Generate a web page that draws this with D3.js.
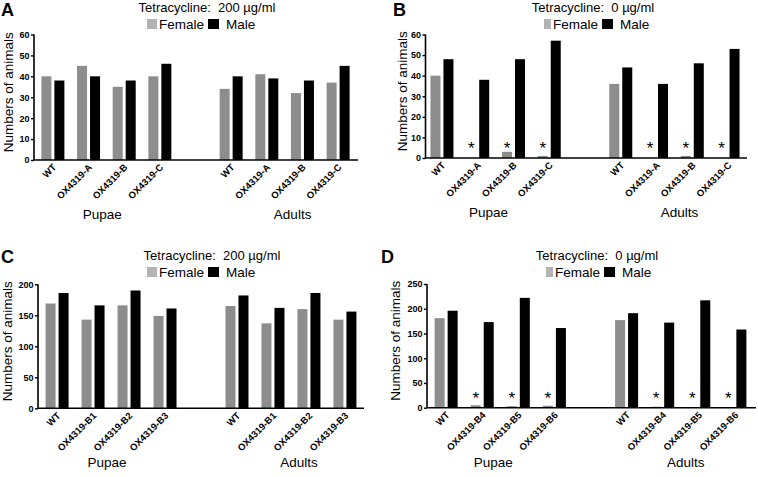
<!DOCTYPE html>
<html>
<head>
<meta charset="utf-8">
<script src="https://d3js.org/d3.v7.min.js"></script>
<style>
  body { margin: 0; background: white; }
  text { font-family: "Liberation Sans", Arial, sans-serif; }
</style>
</head>
<body>
<script>
var w = 758;
var h = 477;

// ----- DATA -----
var sexes = ["Female", "Male"];
var stages = ["Pupae", "Adults"];
var linesAB = ["WT", "OX4319-A", "OX4319-B", "OX4319-C"];
var linesC = ["WT", "OX4319-B1", "OX4319-B2", "OX4319-B3"];
var linesD = ["WT", "OX4319-B4", "OX4319-B5", "OX4319-B6"];
var titles = ["Tetracycline:  200 µg/ml", "Tetracycline:  0 µg/ml", "Tetracycline:  200 µg/ml", "Tetracycline:  0 µg/ml"];

// panel A
var aPupaeFemale = [40, 45, 35, 40];
var aPupaeMale = [38, 40, 38, 46];
var aAdultFemale = [34, 41, 32, 37];
var aAdultMale = [40, 39, 38, 45];
var aTicks = [0, 10, 20, 30, 40, 50, 60];

// panel B
var bPupaeFemale = [40, 0, 3, 1];
var bPupaeMale = [48, 38, 48, 57];
var bAdultFemale = [36, 0, 1, 0];
var bAdultMale = [44, 36, 46, 53];
var bTicks = [0, 10, 20, 30, 40, 50, 60];

// panel C
var cPupaeFemale = [169, 143, 166, 149];
var cPupaeMale = [186, 166, 190, 161];
var cAdultFemale = [165, 137, 160, 143];
var cAdultMale = [182, 162, 186, 156];
var cTicks = [0, 50, 100, 150, 200];

// panel D
var dPupaeFemale = [181, 5, 3, 4];
var dPupaeMale = [196, 173, 222, 161];
var dAdultFemale = [177, 2, 1, 1];
var dAdultMale = [191, 172, 217, 158];
var dTicks = [0, 50, 100, 150, 200, 250];

// significance marks (female absent)
var starsNoTet = [false, true, true, true];
var starsNone = [false, false, false, false];

var femaleColor = "#8d8d8d";
var femaleKey = "#b3b3b3";
var maleColor = "#000000";

var svg = d3.select("body").append("svg")
  .attr("width", w)
  .attr("height", h)
  .style("background-color", "white");

// ----- PANEL DRAWING -----
function drawPanel(p) {
  var g = svg.append("g");

  // slot names: 4 lines pupae, a gap, 4 lines adults
  var slots = [];
  p.lines.forEach(function(l) { slots.push("P|" + l); });
  slots.push("gap");
  p.lines.forEach(function(l) { slots.push("A|" + l); });

  var x = d3.scaleBand()
    .domain(slots)
    .range([p.bandLeft, p.bandRight])
    .paddingInner(0)
    .paddingOuter(0.03);

  var xs = d3.scaleBand()
    .domain(sexes)
    .range([0, 23])
    .paddingInner(0.23);

  var y = d3.scaleLinear()
    .domain([0, p.ticks[p.ticks.length - 1]])
    .range([p.bottom, p.top]);

  var rows = [];
  p.lines.forEach(function(l, i) {
    rows.push({slot: "P|" + l, line: l, female: p.pf[i], male: p.pm[i], star: p.stars[i]});
  });
  p.lines.forEach(function(l, i) {
    rows.push({slot: "A|" + l, line: l, female: p.af[i], male: p.am[i], star: p.stars[i]});
  });

  function slotStart(d) { return x(d.slot) + (x.bandwidth() - 23) / 2; }
  function slotCenter(d) { return x(d.slot) + x.bandwidth() / 2; }

  // bars
  var grp = g.selectAll(".grp")
    .data(rows)
    .enter().append("g")
    .attr("transform", function(d) { return "translate(" + slotStart(d) + ",0)"; });

  grp.selectAll("rect")
    .data(function(d) { return [{sex: "Female", v: d.female}, {sex: "Male", v: d.male}]; })
    .enter().append("rect")
    .attr("x", function(d) { return xs(d.sex); })
    .attr("width", xs.bandwidth())
    .attr("y", function(d) { return y(d.v); })
    .attr("height", function(d) { return y(0) - y(d.v); })
    .attr("fill", function(d) { return d.sex == "Female" ? femaleColor : maleColor; });

  // asterisks
  grp.filter(function(d) { return d.star; })
    .append("text")
    .attr("x", xs("Female") + xs.bandwidth() / 2)
    .attr("y", y(0) - 4)
    .attr("text-anchor", "middle")
    .style("font-size", "17px")
    .text("*");

  // y axis
  var yAxis = d3.axisLeft(y)
    .tickValues(p.ticks)
    .tickSize(3)
    .tickPadding(1.5);
  var ya = g.append("g")
    .attr("transform", "translate(" + p.left + ",0)")
    .call(yAxis);
  ya.select(".domain").attr("stroke-width", 1.6).attr("d", "M0," + y(0) + "V" + y(p.ticks[p.ticks.length - 1]));
  ya.selectAll(".tick line").attr("stroke-width", 1.4);
  ya.selectAll(".tick text")
    .style("font-family", "'Liberation Sans', Arial, sans-serif")
    .style("font-size", "9px")
    .style("font-weight", "bold")
    .attr("fill", "#000");

  // x axis line
  g.append("line")
    .attr("x1", p.left)
    .attr("x2", p.right)
    .attr("y1", y(0))
    .attr("y2", y(0))
    .attr("stroke", "#000")
    .attr("stroke-width", 1.6);

  // x labels rotated
  g.selectAll(".xl")
    .data(rows)
    .enter().append("text")
    .attr("text-anchor", "end")
    .attr("transform", function(d) {
      return "translate(" + (slotCenter(d) + 4) + "," + (y(0) + 8) + ") rotate(-45)";
    })
    .style("font-size", "9.5px")
    .style("font-weight", "bold")
    .text(function(d) { return d.line; });

  // stage labels
  stages.forEach(function(s, k) {
    var sub = rows.slice(k * 4, k * 4 + 4);
    var cx = (slotCenter(sub[0]) + slotCenter(sub[3])) / 2 + p.stageShift[k];
    g.append("text")
      .attr("x", cx)
      .attr("y", p.bottom + 59)
      .attr("text-anchor", "middle")
      .style("font-size", "13.5px")
      .text(s);
  });

  // y axis title
  g.append("text")
    .attr("transform", "translate(" + p.ylabX + "," + ((p.top + p.bottom) / 2 - 5) + ") rotate(-90)")
    .attr("text-anchor", "middle")
    .attr("dy", "0.35em")
    .style("font-size", "13.5px")
    .text("Numbers of animals");

  // panel letter
  g.append("text")
    .attr("x", p.letterX)
    .attr("y", p.letterY)
    .style("font-size", "18px")
    .style("font-weight", "900")
    .text(p.letter);

  // title
  g.append("text")
    .attr("x", p.titleX)
    .attr("y", p.titleY)
    .attr("text-anchor", "middle")
    .style("font-size", "13px")
    .style("white-space", "pre")
    .text(p.title);

  // legend
  var lx = p.legendX;
  g.append("rect")
    .attr("x", lx).attr("y", p.legendY)
    .attr("width", p.sw).attr("height", 10)
    .attr("fill", femaleKey);
  var ft = g.append("text")
    .attr("x", lx + p.sw + 2)
    .attr("y", p.legendY + 9.5)
    .style("font-size", "13.5px")
    .text("Female");
  var fw = ft.node().getComputedTextLength();
  var mx = lx + p.sw + 2 + fw + 4;
  g.append("rect")
    .attr("x", mx).attr("y", p.legendY)
    .attr("width", 11).attr("height", 10)
    .attr("fill", maleColor);
  g.append("text")
    .attr("x", mx + 11 + 7)
    .attr("y", p.legendY + 10)
    .style("font-size", "13.5px")
    .text("Male");
}

drawPanel({
  letter: "A", title: titles[0], lines: linesAB, ticks: aTicks, stars: starsNone,
  pf: aPupaeFemale, pm: aPupaeMale, af: aAdultFemale, am: aAdultMale,
  left: 34, right: 358, bandLeft: 34, bandRight: 357, top: 34.5, bottom: 160,
  letterX: 1, letterY: 16, titleX: 207, titleY: 12, legendX: 147, legendY: 19, sw: 10,
  ylabX: 8, stageShift: [-4, 8]
});

drawPanel({
  letter: "B", title: titles[1], lines: linesAB, ticks: bTicks, stars: starsNoTet,
  pf: bPupaeFemale, pm: bPupaeMale, af: bAdultFemale, am: bAdultMale,
  left: 425.5, right: 747, bandLeft: 423, bandRight: 747, top: 34.5, bottom: 158,
  letterX: 393, letterY: 16, titleX: 593, titleY: 12, legendX: 544, legendY: 19, sw: 7,
  ylabX: 402, stageShift: [-7, 5]
});

drawPanel({
  letter: "C", title: titles[2], lines: linesC, ticks: cTicks, stars: starsNone,
  pf: cPupaeFemale, pm: cPupaeMale, af: cAdultFemale, am: cAdultMale,
  left: 38, right: 364, bandLeft: 38, bandRight: 364, top: 284.3, bottom: 408.3,
  letterX: 1, letterY: 263, titleX: 212, titleY: 260, legendX: 147, legendY: 267, sw: 10,
  ylabX: 7, stageShift: [-4, 8]
});

drawPanel({
  letter: "D", title: titles[3], lines: linesD, ticks: dTicks, stars: starsNoTet,
  pf: dPupaeFemale, pm: dPupaeMale, af: dAdultFemale, am: dAdultMale,
  left: 427, right: 756, bandLeft: 427, bandRight: 754, top: 284, bottom: 407.7,
  letterX: 381, letterY: 263, titleX: 597, titleY: 260, legendX: 546, legendY: 267, sw: 7,
  ylabX: 395, stageShift: [-7, 5]
});
</script>
</body>
</html>
